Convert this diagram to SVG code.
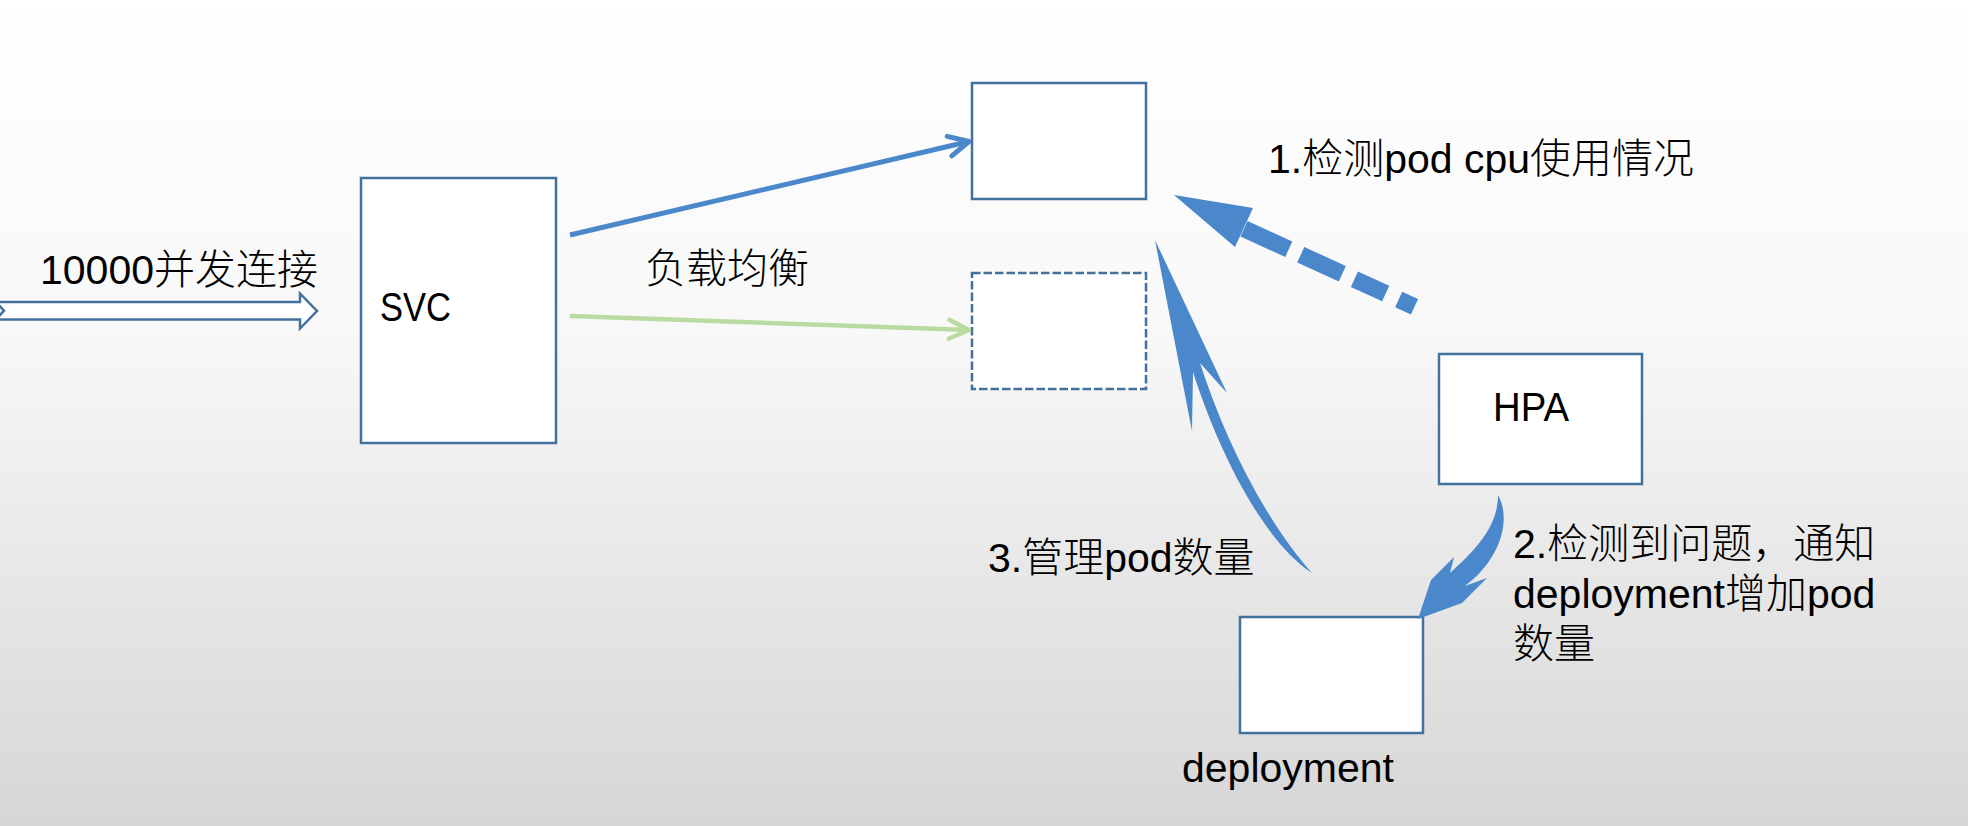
<svg xmlns="http://www.w3.org/2000/svg" width="1968" height="826" viewBox="0 0 1968 826">
<defs>
<linearGradient id="bg" x1="0" y1="0" x2="0" y2="1">
<stop offset="0" stop-color="#ffffff"/>
<stop offset="0.4" stop-color="#f8f8f8"/>
<stop offset="1" stop-color="#d6d6d6"/>
</linearGradient>
<marker id="ahBlue" markerUnits="userSpaceOnUse" viewBox="-26 -16 32 32" refX="0" refY="0" markerWidth="32" markerHeight="32" orient="auto" overflow="visible">
<path d="M-20,-10 L0,0 L-20,10" fill="none" stroke="#4A88CB" stroke-width="5" stroke-linecap="round" stroke-linejoin="round"/>
</marker>
<marker id="ahGreen" markerUnits="userSpaceOnUse" viewBox="-26 -16 32 32" refX="0" refY="0" markerWidth="32" markerHeight="32" orient="auto" overflow="visible">
<path d="M-20,-9.5 L0,0 L-20,9.5" fill="none" stroke="#B9DBA0" stroke-width="4.5" stroke-linecap="round" stroke-linejoin="round"/>
</marker>
<style>
.box{fill:#ffffff;stroke:#41719C;stroke-width:2.5}
.dash{stroke-dasharray:8.5 3}
.t{font-family:"Liberation Sans","Noto Sans CJK SC",sans-serif;font-size:41px;font-weight:300;fill:#000000}
.fillblue{fill:#4A88CB;stroke:none}
</style>
</defs>
<rect x="0" y="0" width="1968" height="826" fill="url(#bg)"/>

<g id="svc">
<rect class="box" x="361" y="178" width="195" height="265"/>
<text class="t" x="380" y="321" textLength="71" lengthAdjust="spacingAndGlyphs">SVC</text>
</g>
<g id="pod1">
<rect class="box" x="972" y="83" width="174" height="116"/>
</g>
<g id="pod2">
<rect class="box dash" x="972" y="273" width="174" height="116"/>
</g>
<g id="hpa">
<rect class="box" x="1439" y="354" width="203" height="130"/>
<text class="t" x="1493" y="421" textLength="76" lengthAdjust="spacingAndGlyphs">HPA</text>
</g>
<g id="deployment">
<rect class="box" x="1240" y="617" width="183" height="116"/>
<text class="t" x="1182" y="782">deployment</text>
</g>

<g id="connectors">
<path d="M-4,302 L300,302 L300,293.5 L317,311 L300,328.5 L300,319.5 L-4,319.5 L4,310.7 Z" fill="#ffffff" stroke="#41719C" stroke-width="2.5" stroke-linejoin="miter"/>
<line x1="570" y1="235" x2="969" y2="141.5" stroke="#4A88CB" stroke-width="5" marker-end="url(#ahBlue)"/>
<line x1="570" y1="316" x2="969" y2="330" stroke="#B9DBA0" stroke-width="4.5" marker-end="url(#ahGreen)"/>
<line x1="1414.5" y1="306.8" x2="1244" y2="228.7" stroke="#4A88CB" stroke-width="17" stroke-dasharray="17.4 14.3 34.4 13.3 45.7 13.2 80"/>
<polygon class="fillblue" points="1174,195 1253,208 1235,247"/>
<path class="fillblue" d="M1155,240 L1227,393 L1200,363 C1225,440 1265,520 1312,573 C1262,540 1218,450 1193,372 L1192,431 Z"/>
<path class="fillblue" d="M1498,495 C1512,520 1500,560 1465,586 L1487,578 L1462,603 L1418,619 L1431,580 L1454,557 L1450,573 C1478,548 1498,525 1498,495 Z"/>
</g>

<g id="label-input">
<text class="t" x="40" y="284">10000并发连接</text>
</g>
<g id="label-lb">
<text class="t" x="645" y="283">负载均衡</text>
</g>
<g id="label-step1">
<text class="t" x="1268" y="173">1.检测pod cpu使用情况</text>
</g>
<g id="label-step2">
<text class="t" x="1513" y="558">2.检测到问题，通知</text>
<text class="t" x="1513" y="608">deployment增加pod</text>
<text class="t" x="1513" y="658">数量</text>
</g>
<g id="label-step3">
<text class="t" x="988" y="572">3.管理pod数量</text>
</g>
</svg>
